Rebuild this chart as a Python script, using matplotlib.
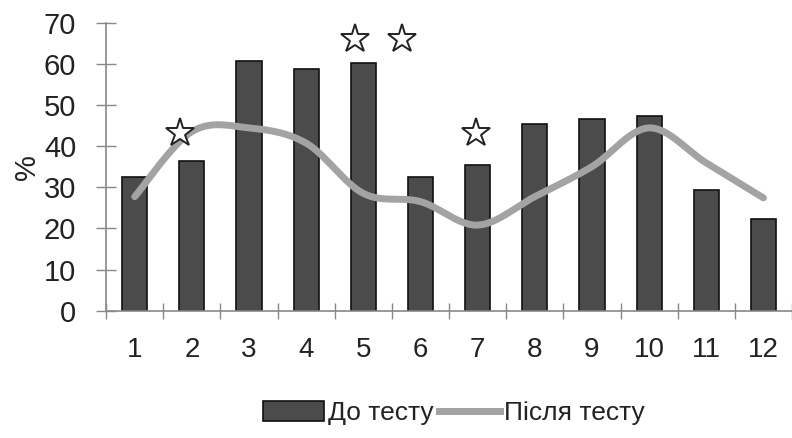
import numpy as np
import matplotlib
matplotlib.use("Agg")
import matplotlib.pyplot as plt
from matplotlib.lines import Line2D
from matplotlib.patches import Patch

categories = ["1", "2", "3", "4", "5", "6", "7", "8", "9", "10", "11", "12"]
before = [32.5, 36.3, 60.6, 58.6, 60.2, 32.5, 35.3, 45.4, 46.6, 47.4, 29.2, 22.2]
after = [27.7, 43.5, 44.4, 40.7, 28.5, 26.5, 20.8, 27.7, 35.0, 44.4, 35.9, 27.4]
star_x = [1.79, 4.85, 5.68, 6.97]
star_y = [43.2, 66.0, 66.0, 43.2]
yticks = [0, 10, 20, 30, 40, 50, 60, 70]

plt.rcParams['font.family'] = ['Liberation Sans', 'DejaVu Sans']

fig = plt.figure(figsize=(7.92, 4.38), dpi=100)
ax = fig.add_axes([0.134, 0.2906, 0.866, 0.658])

x = np.arange(1, len(categories) + 1)
ax.bar(x, before, width=0.44, color='#4b4b4b', edgecolor='#111111', linewidth=1.2, zorder=2)

# Excel-like smoothed line (Catmull-Rom Bezier)
pts = np.column_stack([x, after]).astype(float)
ext = np.vstack([pts[0], pts, pts[-1]])
cx, cy = [], []
t = np.linspace(0, 1, 30)
for i in range(1, len(ext) - 2):
    p0, p1, p2, p3 = ext[i - 1], ext[i], ext[i + 1], ext[i + 2]
    c1 = p1 + (p2 - p0) / 6
    c2 = p2 - (p3 - p1) / 6
    b = ((1 - t) ** 3)[:, None] * p1 + (3 * (1 - t) ** 2 * t)[:, None] * c1 + \
        (3 * (1 - t) * t ** 2)[:, None] * c2 + (t ** 3)[:, None] * p2
    cx.extend(b[:, 0]); cy.extend(b[:, 1])
ax.plot(cx, cy, color='#a3a3a3', linewidth=5, solid_capstyle='round', zorder=3)

ax.plot(star_x, star_y, linestyle='none', marker='*', markersize=21,
        markerfacecolor='white', markeredgecolor='#222222', markeredgewidth=1.4,
        zorder=4, clip_on=False)

ax.set_xlim(0.5, 12.5)
ax.set_ylim(0, 70)
ax.set_yticks(yticks)
ax.set_yticklabels([str(v) for v in yticks], fontsize=21, color='#222222')
ax.set_xticks(np.arange(0.5, 12.6, 1))
ax.set_xticklabels([])
ax.set_xticks(x, minor=True)
ax.set_xticklabels(categories, minor=True, fontsize=20, color='#222222')
ax.tick_params(axis='x', which='major', direction='inout', length=12, color='#888888', width=1)
ax.tick_params(axis='x', which='minor', length=0, pad=19)
ax.tick_params(axis='y', direction='inout', length=15, color='#888888', width=1, pad=14)

for s in ['top', 'right']:
    ax.spines[s].set_visible(False)
ax.spines['left'].set_color('#888888')
ax.spines['bottom'].set_color('#888888')
ax.spines['left'].set_linewidth(1.2)
ax.spines['bottom'].set_linewidth(1.2)

ax.set_ylabel('%', fontsize=21, color='#222222', labelpad=0)
ax.yaxis.set_label_coords(-0.095, 0.5)

handles = [Patch(facecolor='#4b4b4b', edgecolor='#111111', linewidth=1.2),
           Line2D([0], [0], color='#a3a3a3', linewidth=5)]
fig.legend(handles, ['До тесту', 'Після тесту'], loc='center', bbox_to_anchor=(0.573, 0.057),
           ncol=2, frameon=False, fontsize=19, handlelength=2.3, handleheight=0.8,
           handletextpad=0.15, columnspacing=0.2, labelcolor='#222222')

fig.savefig('out.png', dpi=100)
